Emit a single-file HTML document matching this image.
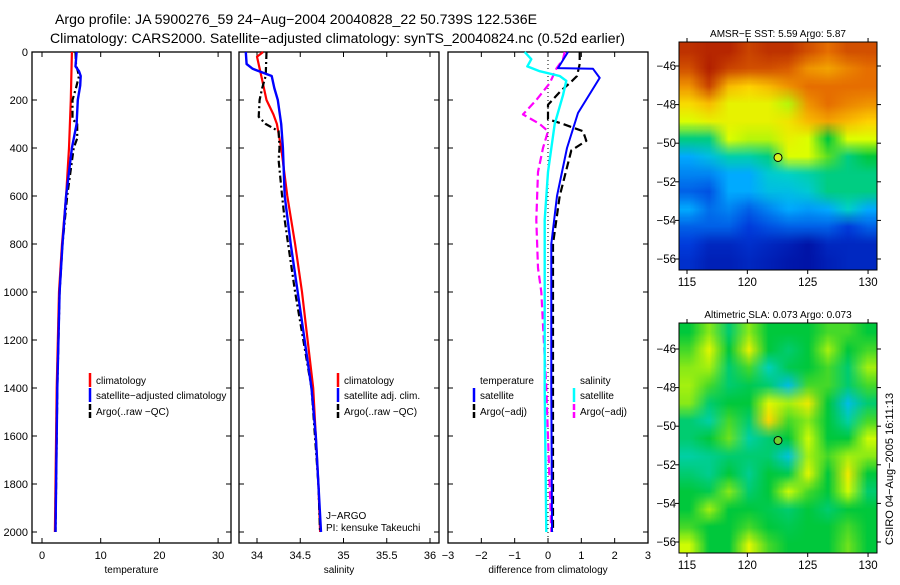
<!DOCTYPE html>
<html><head><meta charset="utf-8"><style>
body{margin:0;background:#fff;width:900px;height:580px;overflow:hidden;font-family:"Liberation Sans",sans-serif}
svg text{font-family:"Liberation Sans",sans-serif}
</style></head><body>
<svg id="fig" width="900" height="580" viewBox="0 0 900 580">
<text x="55" y="24" font-size="14" textLength="482" lengthAdjust="spacingAndGlyphs">Argo profile: JA 5900276_59 24−Aug−2004 20040828_22 50.739S 122.536E</text>
<text x="50" y="43" font-size="14" textLength="575" lengthAdjust="spacingAndGlyphs">Climatology: CARS2000. Satellite−adjusted climatology: synTS_20040824.nc (0.52d earlier)</text>
</svg>
<script>
// ---------- data ----------
const depthTicks=[0,200,400,600,800,1000,1200,1400,1600,1800,2000];
const tempTicks=[0,10,20,30];
const salTicks=[34,34.5,35,35.5,36];
const diffTicks=[-3,-2,-1,0,1,2,3];
const tClimDepth=[0,200,400,600,800,1000,1400,1800,2000];
const tClimVal=[5.1,4.9,4.6,4.1,3.4,2.9,2.5,2.3,2.2];
const tSatDepth=[0,60,80,100,140,200,300,400,600,800,1000,1400,1800,2000];
const tSatVal=[5.9,5.7,6.3,6.6,6.5,6.1,5.9,5.1,4.1,3.5,3.0,2.6,2.4,2.3];
const tArgoDepth=[0,50,100,150,200,280,300,360,400,600,800,1000,1400,1800,2000];
const tArgoVal=[5.7,5.8,6.3,5.8,5.2,5.2,6.0,6.0,5.4,4.3,3.5,3.0,2.6,2.4,2.3];
const sClimDepth=[0,20,100,200,260,300,400,600,800,1000,1400,1800,2000];
const sClimVal=[34.07,34.0,34.05,34.11,34.19,34.23,34.28,34.35,34.44,34.52,34.65,34.71,34.73];
const sSatDepth=[0,50,70,100,150,200,300,400,600,800,1000,1400,1600,1800,2000];
const sSatVal=[33.87,33.88,33.95,34.17,34.2,34.24,34.28,34.3,34.32,34.39,34.47,34.63,34.68,34.71,34.74];
const sArgoDepth=[0,100,150,200,270,300,330,400,450,600,700,800,1000,1400,1800,2000];
const sArgoVal=[34.11,34.1,34.06,34.03,34.02,34.1,34.25,34.26,34.25,34.29,34.32,34.36,34.44,34.63,34.71,34.73];
const dTSatDepth=[0,67,70,108,254,400,600,800,1000,1400,2000];
const dTSatVal=[0.6,0.3,1.35,1.55,0.9,0.57,0.27,0.1,0.1,0.1,0.12];
const dTArgoDepth=[0,50,100,130,160,220,280,300,330,370,410,600,800,1000,1400,2000];
const dTArgoVal=[0.95,0.95,0.87,0.65,0.4,0,0,0.45,1.05,1.15,0.7,0.35,0.15,0.15,0.15,0.15];
const dSSatDepth=[0,30,60,80,100,120,180,300,500,700,1000,1400,2000];
const dSSatVal=[-0.7,-0.5,-0.62,-0.25,0.35,0.55,0.45,0.2,0,-0.1,-0.1,-0.1,-0.05];
const dSArgoDepth=[0,30,70,130,200,260,300,330,400,500,700,900,1000,1400,2000];
const dSArgoVal=[0.5,0.45,0.25,0.05,-0.35,-0.75,-0.25,0,-0.15,-0.3,-0.35,-0.3,-0.2,-0.05,0.1];
const lonTicks=[115,120,125,130];
const latTicks=[-46,-48,-50,-52,-54,-56];
const argoLon=122.54, argoLat=-50.74;
const sstGrid=[
[0.95,0.97,0.97,0.92,0.95,0.95,0.9,0.85,0.9,0.9],
[0.9,0.98,0.92,0.9,0.9,0.88,0.8,0.78,0.82,0.85],
[0.8,0.92,0.75,0.72,0.75,0.8,0.85,0.85,0.85,0.85],
[0.7,0.75,0.65,0.65,0.65,0.6,0.8,0.85,0.82,0.8],
[0.62,0.65,0.65,0.65,0.65,0.68,0.75,0.78,0.75,0.72],
[0.45,0.45,0.62,0.6,0.6,0.65,0.62,0.5,0.62,0.62],
[0.3,0.35,0.42,0.42,0.45,0.62,0.62,0.55,0.45,0.5],
[0.25,0.25,0.3,0.3,0.38,0.4,0.42,0.45,0.45,0.45],
[0.2,0.18,0.3,0.3,0.35,0.35,0.38,0.45,0.45,0.45],
[0.3,0.22,0.25,0.2,0.25,0.3,0.28,0.3,0.4,0.3],
[0.2,0.2,0.2,0.15,0.18,0.2,0.2,0.2,0.15,0.2],
[0.15,0.1,0.1,0.12,0.1,0.08,0.05,0.1,0.1,0.1],
[0.12,0.08,0.08,0.1,0.08,0.06,0.05,0.08,0.1,0.1]];
const slaGrid=[
[0.5,0.6,0.45,0.6,0.5,0.5,0.5,0.55,0.55,0.5],
[0.55,0.68,0.5,0.7,0.5,0.45,0.5,0.62,0.5,0.55],
[0.6,0.62,0.45,0.55,0.38,0.48,0.5,0.55,0.45,0.62],
[0.62,0.55,0.45,0.48,0.45,0.3,0.55,0.55,0.45,0.55],
[0.6,0.45,0.5,0.5,0.68,0.62,0.72,0.5,0.3,0.45],
[0.45,0.4,0.55,0.45,0.78,0.55,0.6,0.5,0.4,0.55],
[0.45,0.5,0.58,0.4,0.45,0.5,0.65,0.5,0.5,0.65],
[0.4,0.42,0.45,0.45,0.45,0.32,0.62,0.55,0.62,0.6],
[0.45,0.42,0.5,0.42,0.5,0.48,0.68,0.5,0.72,0.5],
[0.5,0.48,0.6,0.45,0.5,0.65,0.55,0.5,0.65,0.45],
[0.5,0.62,0.5,0.5,0.48,0.45,0.5,0.45,0.5,0.5],
[0.55,0.5,0.5,0.55,0.5,0.48,0.5,0.5,0.55,0.5],
[0.65,0.5,0.5,0.68,0.55,0.5,0.5,0.5,0.58,0.5]];

// ---------- helpers ----------
const NS='http://www.w3.org/2000/svg';
const svg=document.getElementById('fig');
function mk(tag,attrs,parent){const e=document.createElementNS(NS,tag);for(const k in attrs)e.setAttribute(k,attrs[k]);(parent||svg).appendChild(e);return e;}
const yD=d=>52+d*0.24;
const panels=[
 {x0:32,x1:231,sx:v=>42+5.87*v,ticks:tempTicks,lbl:'temperature',name:'temperature'},
 {x0:239,x1:439,sx:v=>257+86.5*(v-34),ticks:salTicks,lbl:'salinity',name:'salinity'},
 {x0:448,x1:648,sx:v=>548+33.33*v,ticks:diffTicks,lbl:'difference from climatology',name:'difference'}];
panels.forEach((p,i)=>{
 const g=mk('g',{});
 
 
 const r=mk('rect',{x:p.x0,y:52,width:p.x1-p.x0,height:491,fill:'none',stroke:'#000','stroke-width':1.3},g);
 
 
 depthTicks.forEach(d=>{
  mk('line',{x1:p.x0,x2:p.x0+5,y1:yD(d),y2:yD(d),stroke:'#000'},g);
  mk('line',{x1:p.x1,x2:p.x1-5,y1:yD(d),y2:yD(d),stroke:'#000'},g);
  if(i===0){const t=mk('text',{x:28,y:yD(d)+4,'font-size':11,'text-anchor':'end'},g);t.textContent=d;
   
   }
 });
 p.ticks.forEach(v=>{const x=p.sx(v);
  mk('line',{x1:x,x2:x,y1:52,y2:57,stroke:'#000'},g);
  mk('line',{x1:x,x2:x,y1:543,y2:538,stroke:'#000'},g);
  const t=mk('text',{x:x,y:559,'font-size':11,'text-anchor':'middle'},g);t.textContent=String(v).replace('-','−');
  
  
 });
 const t=mk('text',{x:(p.x0+p.x1)/2,y:573,'font-size':10,'text-anchor':'middle'},g);t.textContent=p.lbl;
 
 
});
function series(pi,depths,vals,color,dash,w,name){
 const p=panels[pi];
 const pts=depths.map((d,k)=>p.sx(vals[k]).toFixed(1)+','+yD(d).toFixed(1)).join(' ');
 const l=mk('polyline',{points:pts,fill:'none',stroke:color,'stroke-width':w,'stroke-dasharray':dash||'none','stroke-linejoin':'round'});
 
 
}
series(0,tClimDepth,tClimVal,'#f00',null,2.2,'temp-climatology-line');
series(0,tArgoDepth,tArgoVal,'#000','7,3,2,3',2.2,'temp-argo-line');
series(0,tSatDepth,tSatVal,'#00f',null,2.4,'temp-satellite-line');
series(1,sClimDepth,sClimVal,'#f00',null,2.2,'sal-climatology-line');
series(1,sArgoDepth,sArgoVal,'#000','7,3,2,3',2.2,'sal-argo-line');
series(1,sSatDepth,sSatVal,'#00f',null,2.4,'sal-satellite-line');
const z=mk('line',{x1:panels[2].sx(0),x2:panels[2].sx(0),y1:52,y2:543,stroke:'#000','stroke-dasharray':'1,3'});


series(2,dSArgoDepth,dSArgoVal,'#f0f','8,4',2.2,'diff-sal-argo-line');
series(2,dTArgoDepth,dTArgoVal,'#000','8,4',2.2,'diff-temp-argo-line');
series(2,dSSatDepth,dSSatVal,'#0ff',null,2.4,'diff-sal-satellite-line');
series(2,dTSatDepth,dTSatVal,'#00f',null,2,'diff-temp-satellite-line');

// legends
function legend(x,y,color,dash,label,name){
 const g=mk('g',{});
 
 
 if(color) mk('line',{x1:x,x2:x,y1:y-11,y2:y+3,stroke:color,'stroke-width':2.5,'stroke-dasharray':dash||'none'},g);
 const t=mk('text',{x:x+6,y:y,'font-size':10},g);t.textContent=label;
}
legend(90,384,'#f00',null,'climatology','legend-temp-climatology');
legend(90,399,'#00f',null,'satellite−adjusted climatology','legend-temp-satellite');
legend(90,415,'#000','6,2','Argo(..raw −QC)','legend-temp-argo');
legend(338,384,'#f00',null,'climatology','legend-sal-climatology');
legend(338,399,'#00f',null,'satellite adj. clim.','legend-sal-satellite');
legend(338,415,'#000','6,2','Argo(..raw −QC)','legend-sal-argo');
legend(474,384,null,null,'temperature','legend-temp-heading');
legend(474,399,'#00f',null,'satellite','legend-diff-temp-satellite');
legend(474,415,'#000','6,2','Argo(−adj)','legend-diff-temp-argo');
legend(574,384,null,null,'salinity','legend-sal-heading');
legend(574,399,'#0ff',null,'satellite','legend-diff-sal-satellite');
legend(574,415,'#f0f','6,2','Argo(−adj)','legend-diff-sal-argo');
legend(320,519,null,null,'J−ARGO','program-label');
legend(320,531,null,null,'PI: kensuke Takeuchi','pi-label');

// ---------- maps ----------
function jet(v){const stops=[[0,[0,0,140]],[0.15,[0,60,220]],[0.3,[0,170,255]],[0.4,[0,210,200]],[0.5,[0,200,60]],[0.62,[220,255,0]],[0.72,[255,210,0]],[0.85,[230,110,0]],[1,[170,20,0]]];
 for(let i=1;i<stops.length;i++){if(v<=stops[i][0]){const a=stops[i-1],b=stops[i],t=(v-a[0])/(b[0]-a[0]);return a[1].map((c,k)=>Math.round(c+(b[1][k]-c)*t));}}return stops[stops.length-1][1];}
function map(cfg){
 const {x0,x1,y0,y1,grid,title,name,lat0,contrast}=cfg;
 const W=x1-x0,H=y1-y0;
 const lonX=lo=>687+(lo-115)*12.07;
 const latY=la=>lat0+(-46-la)*19.3;
 const rows=grid.length,cols=grid[0].length;
 const c=document.createElement('canvas');c.width=cols;c.height=rows;const ctx=c.getContext('2d');
 const im=ctx.createImageData(cols,rows);
 grid.forEach((row,r)=>row.forEach((v,k)=>{const col=jet(0.5+(v-0.5)*contrast),o=(r*cols+k)*4;im.data[o]=col[0];im.data[o+1]=col[1];im.data[o+2]=col[2];im.data[o+3]=255;}));
 ctx.putImageData(im,0,0);
 const big=document.createElement('canvas');big.width=W;big.height=H;const bc=big.getContext('2d');
 bc.imageSmoothingEnabled=true;bc.drawImage(c,0,0,cols,rows,0,0,W,H);
 const g=mk('g',{});
 
 
 const img=mk('image',{x:x0,y:y0,width:W,height:H,preserveAspectRatio:'none'},g);
 img.setAttribute('href',big.toDataURL());
 
 
 mk('rect',{x:x0,y:y0,width:W,height:H,fill:'none',stroke:'#000'},g);
 lonTicks.forEach(lo=>{const x=lonX(lo);mk('line',{x1:x,x2:x,y1:y0,y2:y0-4,stroke:'#000'},g);mk('line',{x1:x,x2:x,y1:y1,y2:y1+4,stroke:'#000'},g);
  const t=mk('text',{x:x,y:y1+16,'font-size':11.5,'text-anchor':'middle'},g);t.textContent=lo;
  
  });
 latTicks.forEach(la=>{const y=latY(la);mk('line',{x1:x0,x2:x0-4,y1:y,y2:y,stroke:'#000'},g);mk('line',{x1:x1,x2:x1+4,y1:y,y2:y,stroke:'#000'},g);
  const t=mk('text',{x:x0-3,y:y+4,'font-size':11.5,'text-anchor':'end'},g);t.textContent=String(la).replace('-','−');
  
  });
 const cir=mk('circle',{cx:lonX(argoLon),cy:latY(argoLat),r:4,fill:cfg.dot,stroke:'#000'},g);
 
 
 const t=mk('text',{x:(x0+x1)/2,y:y0-5,'font-size':10,'text-anchor':'middle'},g);t.textContent=title;
 
 
}
map({x0:679,x1:877,y0:42,y1:270,grid:sstGrid,title:'AMSR−E SST: 5.59 Argo: 5.87',name:'sst-map',lat0:66,dot:'#d8f020',contrast:1});
map({x0:679,x1:877,y0:323,y1:553,grid:slaGrid,title:'Altimetric SLA: 0.073 Argo: 0.073',name:'sla-map',lat0:349,dot:'#70d030',contrast:0.75});
const cs=mk('text',{x:0,y:0,'font-size':11,transform:'translate(893,545) rotate(-90)'});
cs.textContent='CSIRO 04−Aug−2005 16:11:13';


</script>
</body></html>
